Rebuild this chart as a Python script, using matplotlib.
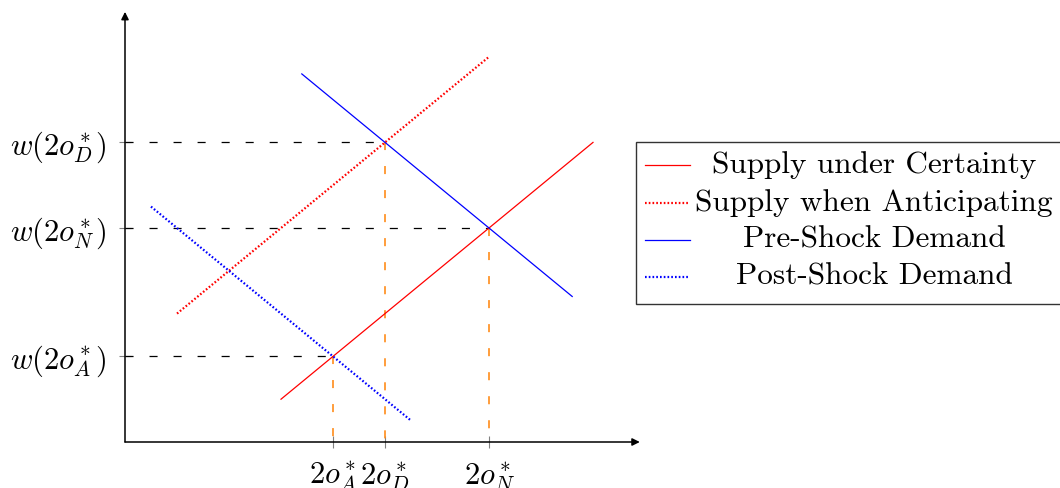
import matplotlib.pyplot as plt
from matplotlib.patches import Rectangle
from matplotlib.lines import Line2D

plt.rcParams['mathtext.fontset'] = 'cm'
plt.rcParams['lines.scale_dashes'] = False

# curves (x start/end, y start/end) in diagram units
supply_x = [3, 9]
supply_y = [1, 7]
antic_x = [1, 7]
antic_y = [3, 9]
pre_x = [3.4, 8.6]
pre_y = [8.6, 3.4]
post_x = [0.5, 5.5]
post_y = [5.5, 0.5]

# equilibria
eq_x = [4, 5, 7]
eq_y = [2, 7, 5]
x_labels = [r'$2o^*_A$', r'$2o^*_D$', r'$2o^*_N$']
y_labels = [r'$w(2o^*_A)$', r'$w(2o^*_D)$', r'$w(2o^*_N)$']

legend_labels = ['Supply under Certainty', 'Supply when Anticipating',
                 'Pre-Shock Demand', 'Post-Shock Demand']

W, H = 1060, 488
fig = plt.figure(figsize=(W / 100, H / 100), dpi=100)
ax = fig.add_axes([125 / W, 46 / H, 520 / W, 428 / H])
ax.set_xlim(0, 10)
ax.set_ylim(0, 10)
for s in ['top', 'right', 'left', 'bottom']:
    ax.spines[s].set_visible(False)

# axes with arrows
ax.annotate('', xy=(9.9, 0), xytext=(0, 0), annotation_clip=False,
            arrowprops=dict(arrowstyle='-|>', color='black', lw=1.1, mutation_scale=11, shrinkA=0, shrinkB=0))
ax.annotate('', xy=(0, 10.05), xytext=(0, 0), annotation_clip=False,
            arrowprops=dict(arrowstyle='-|>', color='black', lw=1.1, mutation_scale=11, shrinkA=0, shrinkB=0))

# guide lines
for x, y in zip(eq_x, eq_y):
    ax.plot([0, x], [y, y], color='black', lw=0.9, dashes=(5.8, 11.5))
    ax.plot([x, x], [y, 0], color='#ff8c1a', lw=1.2, dashes=(5.8, 11.5))

dot = (0, (1.2, 1.5))
ax.plot(supply_x, supply_y, color='red', lw=0.9)
ax.plot(antic_x, antic_y, color='red', lw=1.6, linestyle=dot)
ax.plot(pre_x, pre_y, color='blue', lw=0.9)
ax.plot(post_x, post_y, color='blue', lw=1.6, linestyle=dot)

ax.set_xticks(eq_x)
ax.set_xticklabels(x_labels, fontsize=22)
ax.set_yticks(eq_y)
ax.set_yticklabels(y_labels, fontsize=22)
ax.tick_params(direction='inout', length=8, width=0.8, color='gray', pad=9)

# legend drawn by hand (centred labels, box runs past the right edge)
box = Rectangle((636 / W, 1 - 304 / H), 440 / W, 162 / H, transform=fig.transFigure,
                facecolor='white', edgecolor='#333333', lw=1.0, clip_on=False)
fig.patches.append(box)
styles = [('red', '-', 0.9), ('red', dot, 1.6),
          ('blue', '-', 0.9), ('blue', dot, 1.6)]
rows = [165, 203, 240, 277]
for (c, ls, lw), r, lab in zip(styles, rows, legend_labels):
    fig.add_artist(Line2D([645 / W, 690 / W], [1 - r / H, 1 - r / H], color=c, linestyle=ls, lw=lw,
                          transform=fig.transFigure))
    fig.text(874 / W, 1 - r / H, lab, ha='center', va='center', fontsize=22.5, family='cmr10')

fig.savefig('out.png', dpi=100)
